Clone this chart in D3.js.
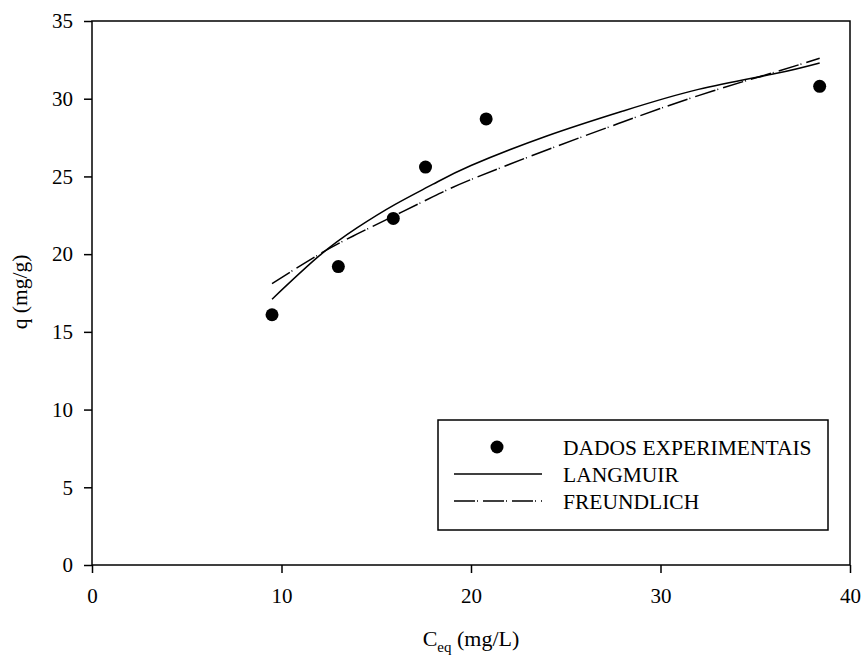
<!DOCTYPE html>
<html>
<head>
<meta charset="utf-8">
<script src="https://cdn.jsdelivr.net/npm/d3@7"></script>
<style>
  body { margin: 0; background: #fff; }
  svg text { font-family: "Liberation Serif", "Times New Roman", serif; fill: #000; }
</style>
</head>
<body>
<div id="chart"></div>
<script>
// experimental points
const ceqData = [9.5, 13.0, 15.9, 17.6, 20.8, 38.4]
const qData = [16.1, 19.2, 22.3, 25.6, 28.7, 30.8]

// fitted curves
const ceqFit = [9.5, 12, 14, 16, 18, 20, 24, 28, 32, 36, 38.4]
const qLangmuir = [17.1, 19.9, 21.7, 23.2, 24.5, 25.7, 27.6, 29.2, 30.6, 31.6, 32.3]
const qFreundlich = [18.1, 20.0, 21.3, 22.5, 23.7, 24.8, 26.7, 28.5, 30.2, 31.7, 32.6]

const xTicks = [0, 10, 20, 30, 40]
const yTicks = [0, 5, 10, 15, 20, 25, 30, 35]
const legendLabels = ['DADOS EXPERIMENTAIS', 'LANGMUIR', 'FREUNDLICH']

const width = 863
const height = 661
const plotLeft = 92, plotRight = 850, plotTop = 21, plotBottom = 565
const dashes = '21,2,1,5'

const xScale = d3.scaleLinear().domain([0, 40]).range([plotLeft, plotRight])
const yScale = d3.scaleLinear().domain([0, 35]).range([plotBottom, plotTop])

const svg = d3.select('#chart')
    .append('svg')
    .attr('width', width)
    .attr('height', height)

// frame
svg.append('rect')
    .attr('x', plotLeft)
    .attr('y', plotTop)
    .attr('width', plotRight - plotLeft)
    .attr('height', plotBottom - plotTop)
    .attr('fill', 'none')
    .attr('stroke', '#000')
    .attr('stroke-width', 1.5)

const xAxis = d3.axisBottom(xScale).tickValues(xTicks).tickSize(8).tickPadding(15).tickFormat(d3.format('d'))
const yAxis = d3.axisLeft(yScale).tickValues(yTicks).tickSize(8).tickPadding(11).tickFormat(d3.format('d'))

svg.append('g')
    .attr('transform', `translate(0, ${plotBottom})`)
    .call(xAxis)
svg.append('g')
    .attr('transform', `translate(${plotLeft}, 0)`)
    .call(yAxis)

svg.selectAll('.domain').remove()
svg.selectAll('.tick line').attr('stroke', '#000').attr('stroke-width', 1.5)
svg.selectAll('.tick text')
    .style('font-family', '"Liberation Serif", serif')
    .style('font-size', '21px')
    .attr('fill', '#000')

// axis titles
svg.append('text')
    .attr('transform', `translate(27, 292) rotate(-90)`)
    .attr('text-anchor', 'middle')
    .style('font-size', '21.5px')
    .text('q (mg/g)')

const xt = svg.append('text')
    .attr('x', 471)
    .attr('y', 646)
    .attr('text-anchor', 'middle')
    .style('font-size', '22px')
xt.append('tspan').text('C')
xt.append('tspan').attr('dy', 6).style('font-size', '15px').text('eq')
xt.append('tspan').attr('dy', -6).text(' (mg/L)')

// curves
const line = d3.line()
    .x((d) => xScale(d[0]))
    .y((d) => yScale(d[1]))
    .curve(d3.curveNatural)

svg.append('path')
    .datum(d3.zip(ceqFit, qLangmuir))
    .attr('d', line)
    .attr('fill', 'none')
    .attr('stroke', '#000')
    .attr('stroke-width', 1.5)

svg.append('path')
    .datum(d3.zip(ceqFit, qFreundlich))
    .attr('d', line)
    .attr('fill', 'none')
    .attr('stroke', '#000')
    .attr('stroke-width', 1.5)
    .attr('stroke-dasharray', dashes)

// points
svg.selectAll('circle.dot')
    .data(d3.zip(ceqData, qData))
    .enter()
    .append('circle')
    .attr('class', 'dot')
    .attr('cx', (d) => xScale(d[0]))
    .attr('cy', (d) => yScale(d[1]))
    .attr('r', 6.5)
    .attr('fill', '#000')

// legend
const legend = svg.append('g')
legend.append('rect')
    .attr('x', 438)
    .attr('y', 420)
    .attr('width', 390)
    .attr('height', 110)
    .attr('fill', '#fff')
    .attr('stroke', '#000')
    .attr('stroke-width', 1.5)

const rowY = [447, 474, 501]
legend.append('circle')
    .attr('cx', 497)
    .attr('cy', rowY[0])
    .attr('r', 6.5)
    .attr('fill', '#000')
legend.append('line')
    .attr('x1', 454).attr('x2', 542)
    .attr('y1', rowY[1]).attr('y2', rowY[1])
    .attr('stroke', '#000').attr('stroke-width', 1.5)
legend.append('line')
    .attr('x1', 454).attr('x2', 542)
    .attr('y1', rowY[2]).attr('y2', rowY[2])
    .attr('stroke', '#000').attr('stroke-width', 1.5)
    .attr('stroke-dasharray', dashes)

legend.selectAll('text.lab')
    .data(legendLabels)
    .enter()
    .append('text')
    .attr('class', 'lab')
    .attr('x', 563)
    .attr('y', (d, i) => rowY[i] + 8)
    .style('font-size', '21.5px')
    .text((d) => d)
</script>
</body>
</html>
